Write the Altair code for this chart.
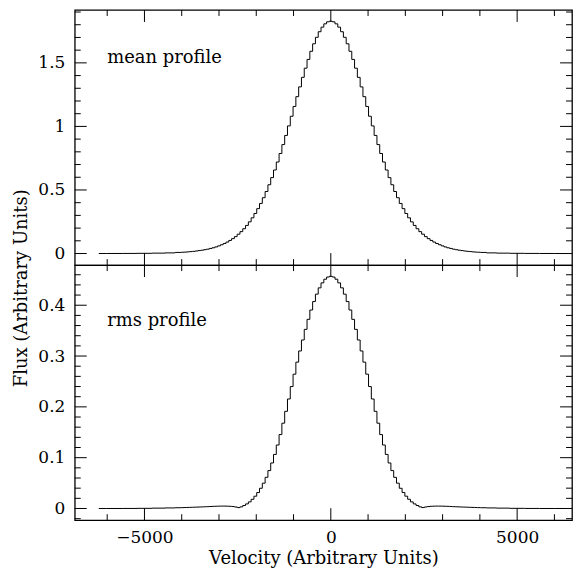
import altair as alt
import pandas as pd

FONT = "DejaVu Serif"

# ---- data (positive half of symmetric profiles; bin centres in velocity units) ----
vel_half = list(range(0, 4051, 75)) + [4300, 4600, 5000, 5400, 5800, 6225]

mean_half = [1.828, 1.823, 1.807, 1.781, 1.745, 1.701, 1.650, 1.591, 1.527, 1.458,
             1.386, 1.311, 1.234, 1.157, 1.080, 1.004, 0.929, 0.857, 0.787, 0.720,
             0.657, 0.597, 0.541, 0.488, 0.439, 0.394, 0.353, 0.315, 0.281, 0.249,
             0.221, 0.195, 0.172, 0.152, 0.133, 0.117, 0.103, 0.090, 0.079, 0.069,
             0.060, 0.052, 0.045, 0.040, 0.034, 0.030, 0.026, 0.023, 0.020, 0.017,
             0.015, 0.013, 0.011, 0.010, 0.0085,
             0.005, 0.003, 0.0015, 0.0007, 0.0003, 0.0001]

rms_half = [0.457, 0.4555, 0.4512, 0.4440, 0.4342, 0.4218, 0.4072, 0.3906, 0.3722, 0.3525,
            0.3316, 0.3100, 0.2880, 0.2643, 0.2400, 0.2155, 0.1912, 0.1679, 0.1455, 0.1249,
            0.1064, 0.0896, 0.0746, 0.0613, 0.0498, 0.0398, 0.0314, 0.0242, 0.0181, 0.0130,
            0.0090, 0.0059, 0.0032, 0.0018, 0.0030, 0.0038, 0.0043, 0.0046, 0.0047, 0.0047,
            0.0046, 0.0044, 0.0042, 0.0039, 0.0036, 0.0034, 0.0031, 0.0029, 0.0027, 0.0025,
            0.0023, 0.0021, 0.0019, 0.0017, 0.0015,
            0.0011, 0.0007, 0.0003, 0.0001, 0.0, 0.0]

x_major = [-5000, 0, 5000]
x_minor = [-6000, -4000, -3000, -2000, -1000, 1000, 2000, 3000, 4000, 6000]
top_y_major = [0, 0.5, 1, 1.5]
top_y_minor = [0.1, 0.2, 0.3, 0.4, 0.6, 0.7, 0.8, 0.9, 1.1, 1.2, 1.3, 1.4, 1.6, 1.7, 1.8, 1.9]
bot_y_major = [0, 0.1, 0.2, 0.3, 0.4]
bot_y_minor = [-0.02, 0.02, 0.04, 0.06, 0.08, 0.12, 0.14, 0.16, 0.18, 0.22, 0.24, 0.26,
               0.28, 0.32, 0.34, 0.36, 0.38, 0.42, 0.44, 0.46]

labels_text = ["mean profile", "rms profile"]
labels_x = [-6000, -6000]
labels_y = [1.5, 0.36]

x_domain = [-6870, 6472]
top_domain = [-0.091, 1.916]
bot_domain = [-0.023, 0.479]

assert len(vel_half) == len(mean_half) == len(rms_half)

vel = [-v for v in reversed(vel_half[1:])] + vel_half
mean_vals = list(reversed(mean_half[1:])) + mean_half
rms_vals = list(reversed(rms_half[1:])) + rms_half

W = 499
H_TOP = 256
H_BOT = 256
MAJ = 12
MIN = 6
TICK_FS = 17
TITLE_FS = 18


def panel(values, ydom, ymaj, ymin, label, lx, ly, H, show_x):
    xs = alt.Scale(domain=x_domain, nice=False, zero=False)
    ys = alt.Scale(domain=ydom, nice=False, zero=False)
    if show_x:
        xaxis = alt.Axis(values=x_major, format="d", ticks=False, domain=False, grid=False,
                         labelPadding=9, labelFont=FONT, labelFontSize=TICK_FS, labelColor="black",
                         title="Velocity (Arbitrary Units)", titleFont=FONT, titleFontSize=TITLE_FS,
                         titleFontWeight="normal", titleColor="black", titlePadding=4)
    else:
        xaxis = None
    yaxis = alt.Axis(values=ymaj, labelExpr="datum.value", ticks=False, domain=False, grid=False,
                     labelPadding=10, labelFont=FONT, labelFontSize=TICK_FS, labelColor="black",
                     title=None)

    df = pd.DataFrame({"v": vel, "f": values})
    line = alt.Chart(df).mark_line(interpolate="step", color="black", strokeWidth=1).encode(
        x=alt.X("v:Q", scale=xs, axis=xaxis),
        y=alt.Y("f:Q", scale=ys, axis=yaxis),
    )
    tdf = pd.DataFrame({"t": [label], "x": [lx], "y": [ly]})
    text = alt.Chart(tdf).mark_text(align="left", baseline="alphabetic", font=FONT,
                                    fontSize=TITLE_FS, color="black").encode(
        x=alt.X("x:Q", scale=xs, axis=xaxis),
        y=alt.Y("y:Q", scale=ys, axis=yaxis),
        text="t:N",
    )
    layers = [line, text]

    def yt(vals, length, left):
        d = pd.DataFrame({"t": vals})
        x0 = 0 if left else W
        x1 = length if left else W - length
        return alt.Chart(d).mark_rule(color="black", strokeWidth=1).encode(
            y=alt.Y("t:Q", scale=ys, axis=yaxis), x=alt.value(x0), x2=alt.value(x1))

    def xt(vals, length, top):
        d = pd.DataFrame({"t": vals})
        y0 = 0 if top else H
        y1 = length if top else H - length
        return alt.Chart(d).mark_rule(color="black", strokeWidth=1).encode(
            x=alt.X("t:Q", scale=xs, axis=xaxis), y=alt.value(y0), y2=alt.value(y1))

    layers += [yt(ymaj, MAJ, True), yt(ymin, MIN, True), yt(ymaj, MAJ, False), yt(ymin, MIN, False),
               xt(x_major, MAJ, True), xt(x_minor, MIN, True), xt(x_major, MAJ, False), xt(x_minor, MIN, False)]
    return alt.layer(*layers).properties(width=W, height=H)


top = panel(mean_vals, top_domain, top_y_major, top_y_minor, labels_text[0], labels_x[0], labels_y[0], H_TOP, False)
bot = panel(rms_vals, bot_domain, bot_y_major, bot_y_minor, labels_text[1], labels_x[1], labels_y[1], H_BOT, True)

chart = alt.vconcat(top, bot, spacing=0, bounds="flush").properties(
    title=alt.TitleParams(text="Flux (Arbitrary Units)", orient="left", anchor="middle",
                          font=FONT, fontSize=TITLE_FS, fontWeight="normal", color="black", offset=6),
    padding={"left": 5, "top": -1, "right": 0, "bottom": 0},
).configure_view(stroke="black", strokeWidth=1.3)

chart.save("out.html", embed_options={"renderer": "svg", "actions": False})
